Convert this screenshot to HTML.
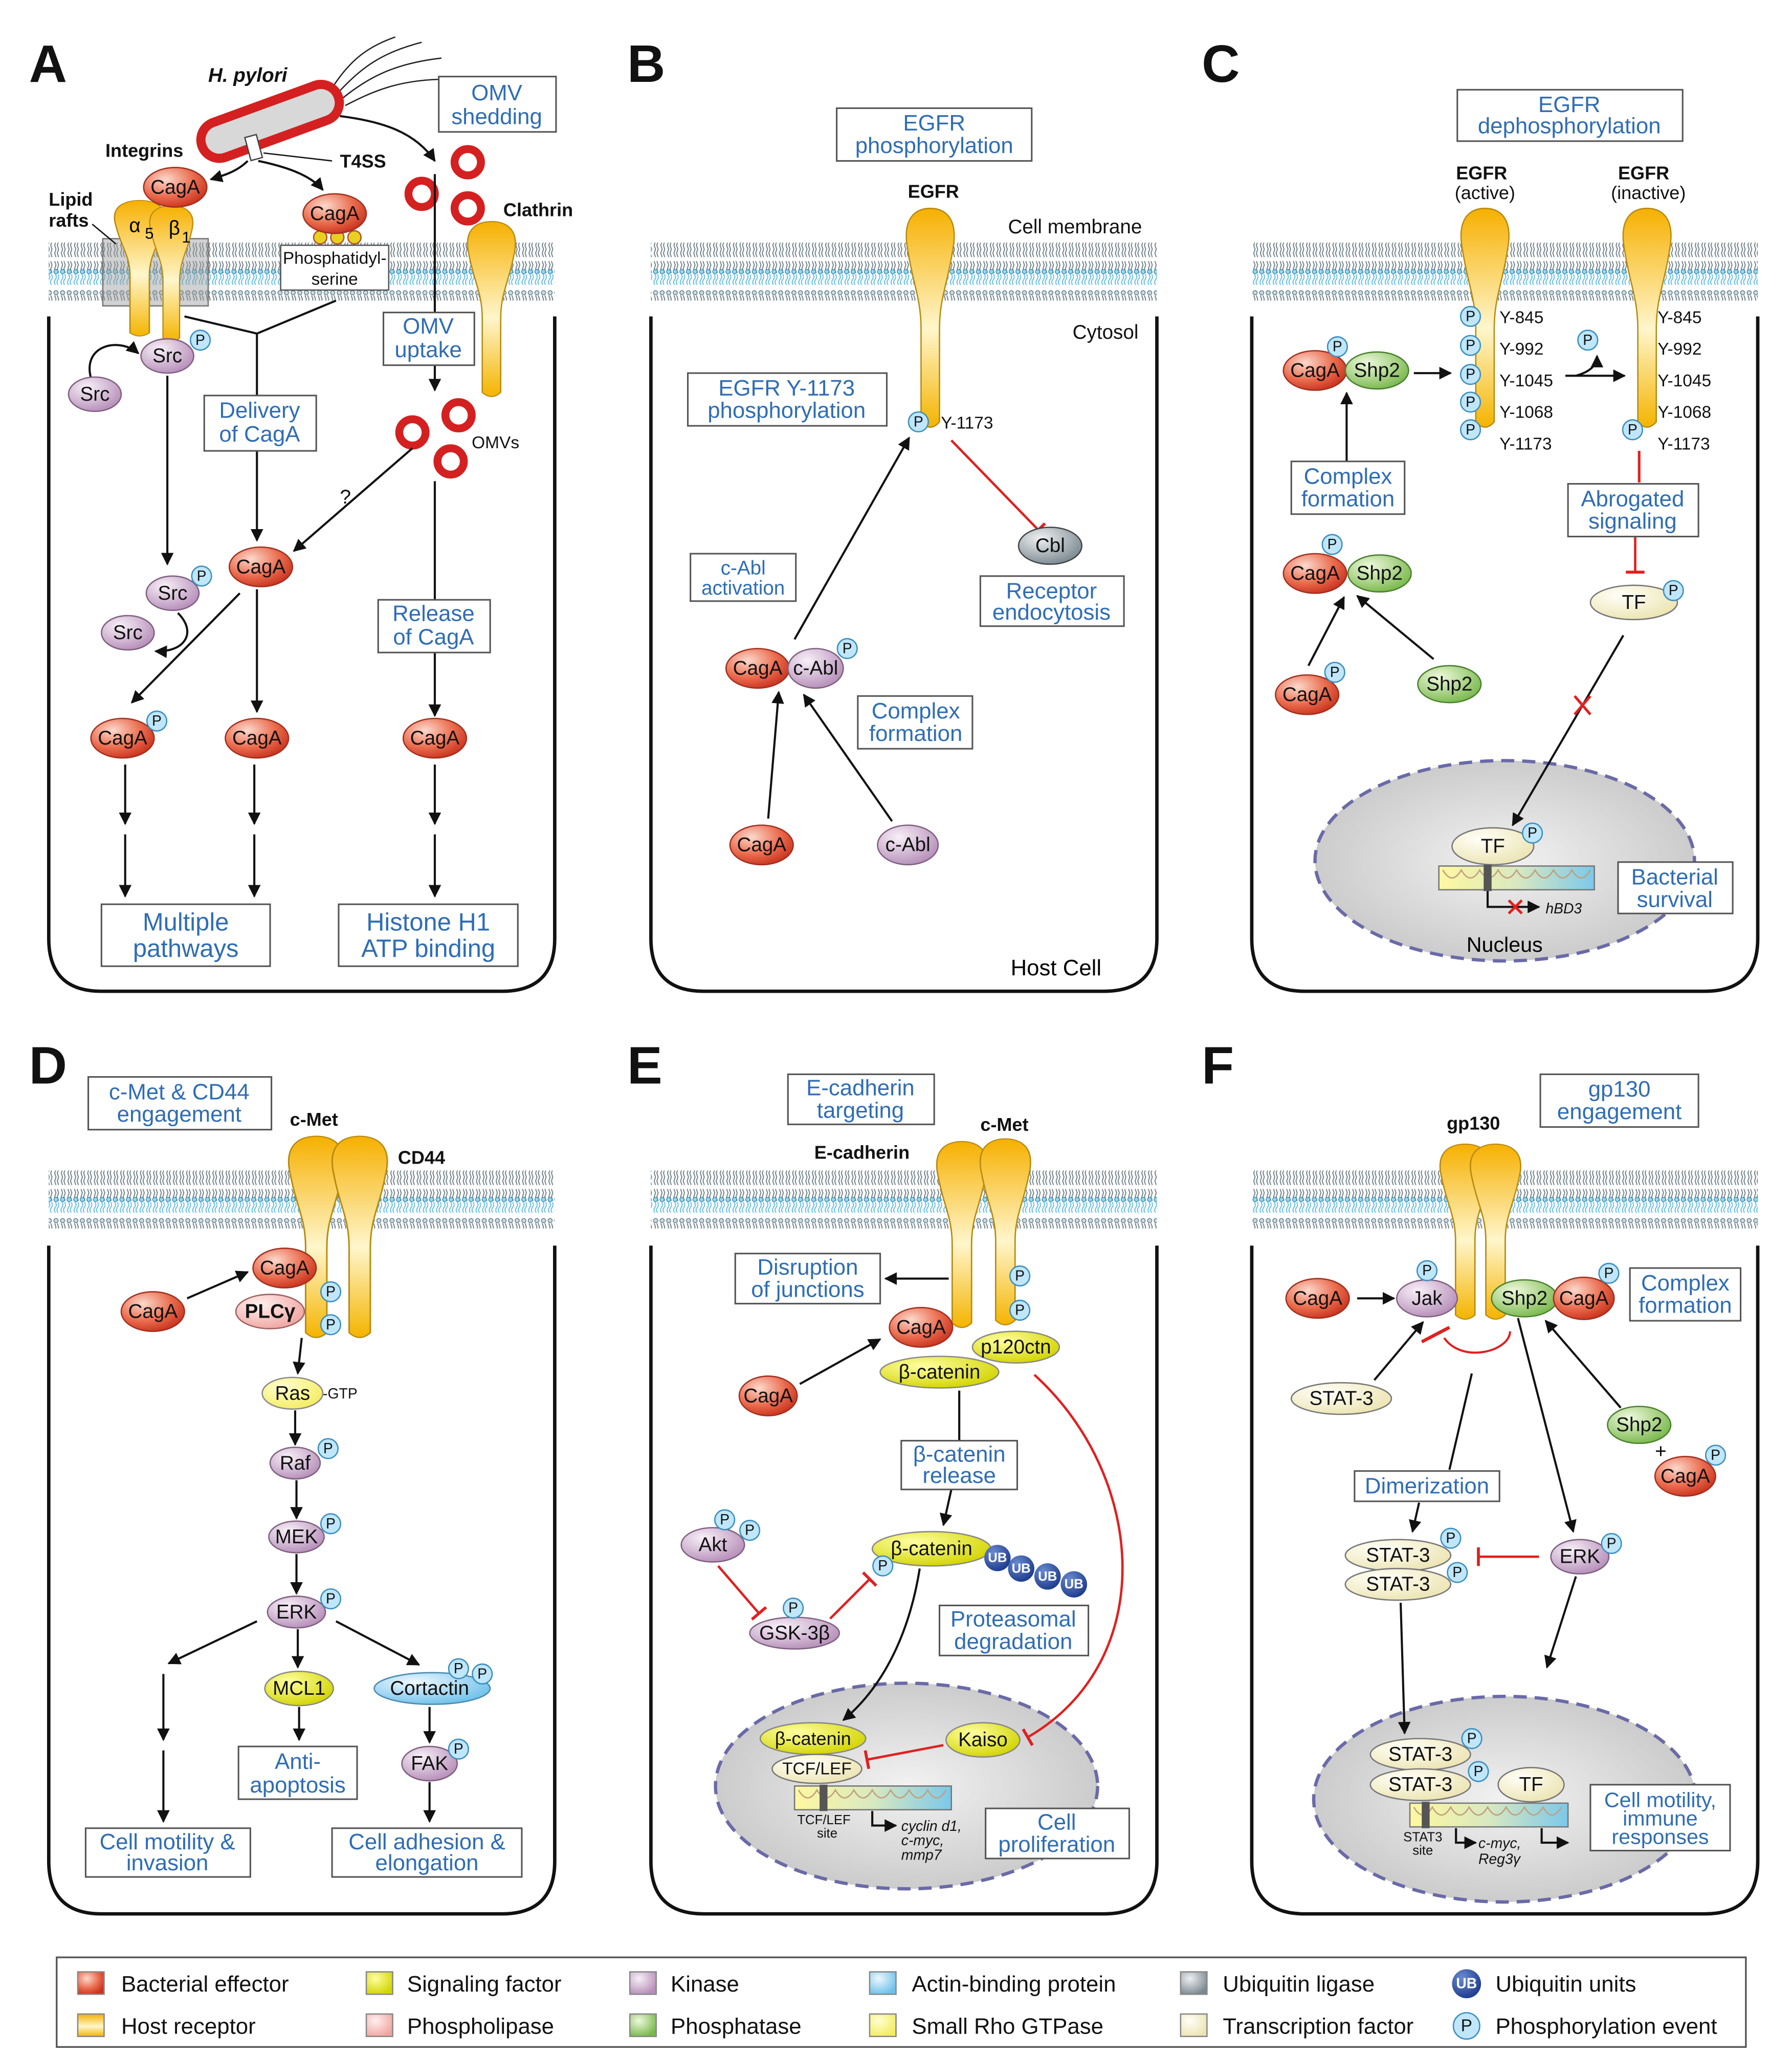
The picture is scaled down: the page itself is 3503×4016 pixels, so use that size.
<!DOCTYPE html>
<html><head><meta charset="utf-8"><style>
html,body{margin:0;padding:0;background:#fff}
svg{display:block}
text{font-family:"Liberation Sans",Arial,sans-serif}
.n{font-size:15px;text-anchor:middle;dominant-baseline:central;fill:#111}
.s{font-size:13px;text-anchor:middle;dominant-baseline:central;fill:#111}
.b{font-size:17px;text-anchor:middle;fill:#2f6db5}
.bx{fill:#fff;stroke:#555;stroke-width:1.2}
.bd{font-size:14px;font-weight:bold;fill:#111}
.L{font-size:40px;font-weight:bold;fill:#111}
.t{font-size:13px;fill:#111}
.ln{stroke:#111;stroke-width:1.6;fill:none}
.ar{stroke:#111;stroke-width:1.6;fill:none;marker-end:url(#ah)}
.inh{stroke:#e02020;stroke-width:1.8;fill:none;marker-end:url(#bar)}
.cell{stroke:#111;stroke-width:2.6;fill:none}
.lg{font-size:17px;fill:#111}
.om{fill:#fff;stroke:#d42020;stroke-width:6}
</style></head><body>
<svg width="3503" height="4016" viewBox="0 0 1360 1559" xmlns="http://www.w3.org/2000/svg">
<defs>
<marker id="ah" viewBox="0 0 10 10" refX="9" refY="5" markerWidth="6" markerHeight="6" orient="auto" markerUnits="strokeWidth"><path d="M0,0 L10,5 L0,10 Z" fill="#111"/></marker>
<marker id="bar" viewBox="-2 -8 4 16" refX="0" refY="0" markerWidth="4" markerHeight="9" orient="auto" markerUnits="strokeWidth"><path d="M0,-7 L0,7" stroke="#e02020" stroke-width="2.2"/></marker>
<radialGradient id="gr" cx="35%" cy="30%" r="75%"><stop offset="0" stop-color="#fcd9cc"/><stop offset=".6" stop-color="#ea6a4c"/><stop offset="1" stop-color="#c8321e"/></radialGradient>
<radialGradient id="gp" cx="35%" cy="30%" r="75%"><stop offset="0" stop-color="#f8f0f8"/><stop offset="1" stop-color="#b58db8"/></radialGradient>
<radialGradient id="gg" cx="35%" cy="30%" r="75%"><stop offset="0" stop-color="#eef8dc"/><stop offset="1" stop-color="#78b84a"/></radialGradient>
<radialGradient id="gy" cx="35%" cy="30%" r="75%"><stop offset="0" stop-color="#ffffa0"/><stop offset="1" stop-color="#d2d400"/></radialGradient>
<radialGradient id="gb" cx="35%" cy="30%" r="75%"><stop offset="0" stop-color="#eef8fe"/><stop offset="1" stop-color="#6cc0ea"/></radialGradient>
<radialGradient id="gc" cx="35%" cy="30%" r="75%"><stop offset="0" stop-color="#fffff8"/><stop offset="1" stop-color="#ece4b2"/></radialGradient>
<radialGradient id="gk" cx="35%" cy="30%" r="75%"><stop offset="0" stop-color="#eef0f2"/><stop offset="1" stop-color="#7a8890"/></radialGradient>
<radialGradient id="gpk" cx="35%" cy="30%" r="75%"><stop offset="0" stop-color="#fff0ee"/><stop offset="1" stop-color="#f0a4a0"/></radialGradient>
<radialGradient id="gsr" cx="35%" cy="30%" r="75%"><stop offset="0" stop-color="#ffffd0"/><stop offset="1" stop-color="#f4ec60"/></radialGradient>
<radialGradient id="gu" cx="35%" cy="30%" r="75%"><stop offset="0" stop-color="#6a8ad0"/><stop offset="1" stop-color="#1c3a8a"/></radialGradient>
<radialGradient id="gn" cx="50%" cy="50%" r="55%"><stop offset="0" stop-color="#f2f2f2"/><stop offset="1" stop-color="#c8c8c8"/></radialGradient>
<linearGradient id="go" x1="0" y1="0" x2="0" y2="1"><stop offset="0" stop-color="#f6b000"/><stop offset=".55" stop-color="#fff6cc"/><stop offset="1" stop-color="#f4b400"/></linearGradient>
<linearGradient id="gdna" x1="0" y1="0" x2="1" y2="0"><stop offset="0" stop-color="#fff8a0"/><stop offset=".5" stop-color="#d8e8c0"/><stop offset="1" stop-color="#7cc8ea"/></linearGradient>
<pattern id="mem" width="5" height="44" patternUnits="userSpaceOnUse">
<path d="M1.5,4 l1,3 l-1,3 l1,3 l-1,3 l1,3 M3.5,4 l1,3 l-1,3 l1,3 l-1,3 l1,3" stroke="#6f8088" stroke-width=".75" fill="none"/>
<path d="M1.5,22 l1,3 l-1,3 l1,3 M3.5,22 l1,3 l-1,3 l1,3" stroke="#6f8088" stroke-width=".75" fill="none"/>
<path d="M2,32 q1.5,2 0,4 q-1.5,2 0,4 M4,32 q1.5,2 0,4 q-1.5,2 0,4" stroke="#6cc0e8" stroke-width=".8" fill="none"/>
<circle cx="2.5" cy="2" r="1.6" fill="#d0dce0" stroke="#5a7a88" stroke-width=".6"/>
<circle cx="2.5" cy="30" r="1.6" fill="#a0d8f0" stroke="#3090b8" stroke-width=".6"/>
</pattern>
<path id="rec" d="M-17,32 C-22,6 -10,0 0,0 C10,0 22,6 17,32 C13,58 7,68 7,92 L7,162 Q0,170 -7,162 L-7,92 C-7,68 -13,58 -17,32 Z" fill="url(#go)" stroke="#b88a10" stroke-width="1"/>
<g id="P"><circle r="7.5" fill="#bfe6fa" stroke="#3a8ec0" stroke-width="1"/><text class="s" style="font-size:11px">P</text></g>
</defs>
<rect width="1360" height="1559" fill="#fff"/>

<rect x="37" y="184" width="384" height="44" fill="url(#mem)"/>
<rect x="494" y="184" width="384" height="44" fill="url(#mem)"/>
<rect x="950" y="184" width="384" height="44" fill="url(#mem)"/>
<rect x="37" y="888" width="384" height="44" fill="url(#mem)"/>
<rect x="494" y="888" width="384" height="44" fill="url(#mem)"/>
<rect x="950" y="888" width="384" height="44" fill="url(#mem)"/>
<path class="cell" d="M37,240 L37,712 Q37,752 77,752 L381,752 Q421,752 421,712 L421,240"/>
<path class="cell" d="M494,240 L494,712 Q494,752 534,752 L838,752 Q878,752 878,712 L878,240"/>
<path class="cell" d="M950,240 L950,712 Q950,752 990,752 L1294,752 Q1334,752 1334,712 L1334,240"/>
<path class="cell" d="M37,945 L37,1412 Q37,1452 77,1452 L381,1452 Q421,1452 421,1412 L421,945"/>
<path class="cell" d="M494,945 L494,1412 Q494,1452 534,1452 L838,1452 Q878,1452 878,1412 L878,945"/>
<path class="cell" d="M950,945 L950,1412 Q950,1452 990,1452 L1294,1452 Q1334,1452 1334,1412 L1334,945"/>

<!-- A -->
<text class="L" x="22" y="62">A</text>
<text class="bd" x="158" y="62" style="font-style:italic;font-size:15px">H. pylori</text>
<path d="M255,72 C275,50 290,40 320,32 M258,76 C280,58 300,48 335,44 M262,80 C285,68 305,60 340,60 M250,70 C265,45 280,35 300,28" stroke="#222" stroke-width="1" fill="none"/>
<g transform="rotate(-20 205 92)"><rect x="150" y="78" width="110" height="28" rx="14" fill="#d8d8d8" stroke="#d42020" stroke-width="7"/></g>
<rect x="188" y="103" width="9" height="18" fill="#fff" stroke="#444" transform="rotate(-15 192 112)"/>
<path class="ar" d="M258,88 C290,92 315,100 330,122"/>
<path class="ar" d="M188,122 C180,130 170,133 160,136"/>
<path class="ar" d="M196,122 C215,126 235,132 245,144"/>
<path class="ln" d="M200,116 L252,122" style="stroke-width:1"/>
<rect class="bx" x="333" y="58" width="89" height="42"/>
<text class="b" x="377" y="76">OMV</text><text class="b" x="377" y="94">shedding</text>
<circle class="om" cx="355" cy="123" r="10"/><circle class="om" cx="320" cy="147" r="10"/><circle class="om" cx="355" cy="158" r="10"/>
<text class="bd" x="80" y="119">Integrins</text>
<text class="bd" x="258" y="127">T4SS</text>
<text class="bd" x="37" y="156">Lipid</text><text class="bd" x="37" y="172">rafts</text>
<text class="bd" x="382" y="164">Clathrin</text>
<rect x="78" y="181" width="80" height="51" fill="#999" fill-opacity=".45" stroke="#777"/>
<path d="M70,170 L88,185" stroke="#111" stroke-width="1"/>
<use href="#rec" transform="translate(106 152) scale(1.05 0.62)"/>
<use href="#rec" transform="translate(130 156) scale(0.9 0.62)"/>
<text x="98" y="176" style="font-size:15px">α</text><text x="110" y="181" style="font-size:12px">5</text>
<text x="128" y="178" style="font-size:15px">β</text><text x="138" y="184" style="font-size:12px">1</text>
<ellipse cx="133" cy="142" rx="24" ry="15" fill="url(#gr)" stroke="#a03020"/><text class="n" x="133" y="142">CagA</text>
<circle cx="243" cy="180" r="5" fill="#e8d020" stroke="#b05030"/><circle cx="256" cy="180" r="5" fill="#e8d020" stroke="#b05030"/><circle cx="269" cy="180" r="5" fill="#e8d020" stroke="#b05030"/>
<ellipse cx="254" cy="162" rx="24" ry="15" fill="url(#gr)" stroke="#a03020"/><text class="n" x="254" y="162">CagA</text>
<rect x="213" y="186" width="82" height="34" fill="#fff" stroke="#555"/>
<text class="t" x="254" y="200" text-anchor="middle">Phosphatidyl-</text><text class="t" x="254" y="216" text-anchor="middle">serine</text>
<use href="#rec" transform="translate(373 168) scale(1 0.8)"/>
<path class="ln" d="M140,240 L195,253 L255,228 M195,253 L195,300"/>
<path class="ar" d="M195,342 L195,410"/>
<rect class="bx" x="155" y="300" width="85" height="42"/>
<text class="b" x="197" y="317">Delivery</text><text class="b" x="197" y="335">of CagA</text>
<path class="ar" d="M70,290 C60,262 90,255 105,268"/>
<ellipse cx="127" cy="270" rx="20" ry="13" fill="url(#gp)" stroke="#806080"/><text class="n" x="127" y="270">Src</text><use href="#P" x="152" y="258"/>
<ellipse cx="72" cy="299" rx="20" ry="13" fill="url(#gp)" stroke="#806080"/><text class="n" x="72" y="299">Src</text>
<path class="ar" d="M127,285 L127,428"/>
<path class="ar" d="M330,132 L330,296"/>
<rect class="bx" x="291" y="237" width="69" height="40"/>
<text class="b" x="325" y="253">OMV</text><text class="b" x="325" y="271">uptake</text>
<circle class="om" cx="313" cy="328" r="10"/><circle class="om" cx="348" cy="315" r="10"/><circle class="om" cx="342" cy="350" r="10"/>
<text class="t" x="358" y="340">OMVs</text>
<text class="t" x="258" y="382" style="font-size:15px">?</text>
<path class="ar" d="M313,340 L223,418"/>
<path class="ln" d="M330,365 L330,455"/><path class="ar" d="M330,495 L330,543"/>
<rect class="bx" x="287" y="455" width="85" height="40"/>
<text class="b" x="329" y="471">Release</text><text class="b" x="329" y="489">of CagA</text>
<ellipse cx="198" cy="430" rx="24" ry="15" fill="url(#gr)" stroke="#a03020"/><text class="n" x="198" y="430">CagA</text>
<ellipse cx="131" cy="450" rx="20" ry="13" fill="url(#gp)" stroke="#806080"/><text class="n" x="131" y="450">Src</text><use href="#P" x="153" y="437"/>
<ellipse cx="97" cy="480" rx="20" ry="13" fill="url(#gp)" stroke="#806080"/><text class="n" x="97" y="480">Src</text>
<path class="ar" d="M135,465 C150,480 140,495 118,494"/>
<path class="ar" d="M182,450 L100,533"/>
<path class="ar" d="M195,447 L195,540"/>
<ellipse cx="93" cy="560" rx="24" ry="15" fill="url(#gr)" stroke="#a03020"/><text class="n" x="93" y="560">CagA</text><use href="#P" x="119" y="547"/>
<ellipse cx="195" cy="560" rx="24" ry="15" fill="url(#gr)" stroke="#a03020"/><text class="n" x="195" y="560">CagA</text>
<ellipse cx="330" cy="560" rx="24" ry="15" fill="url(#gr)" stroke="#a03020"/><text class="n" x="330" y="560">CagA</text>
<path class="ar" d="M95,580 L95,625"/><path class="ar" d="M193,580 L193,625"/><path class="ar" d="M330,580 L330,625"/>
<path class="ar" d="M95,633 L95,680"/><path class="ar" d="M193,633 L193,680"/><path class="ar" d="M330,633 L330,680"/>
<rect class="bx" x="77" y="686" width="128" height="47"/>
<text class="b" x="141" y="706" style="font-size:19px">Multiple</text><text class="b" x="141" y="726" style="font-size:19px">pathways</text>
<rect class="bx" x="257" y="686" width="136" height="47"/>
<text class="b" x="325" y="706" style="font-size:19px">Histone H1</text><text class="b" x="325" y="726" style="font-size:19px">ATP binding</text>

<!-- B -->
<text class="L" x="476" y="62">B</text>
<rect class="bx" x="635" y="82" width="148" height="40"/>
<text class="b" x="709" y="99">EGFR</text><text class="b" x="709" y="116">phosphorylation</text>
<text class="bd" x="689" y="150">EGFR</text>
<text class="t" x="765" y="177" style="font-size:15px">Cell membrane</text>
<text class="t" x="814" y="257" style="font-size:15px">Cytosol</text>
<use href="#rec" transform="translate(706 158)"/>
<use href="#P" x="697" y="320"/><text class="t" x="714" y="325">Y-1173</text>
<rect class="bx" x="522" y="283" width="151" height="40"/>
<text class="b" x="597" y="300">EGFR Y-1173</text><text class="b" x="597" y="317">phosphorylation</text>
<path class="inh" d="M722,334 L788,402"/>
<ellipse cx="797" cy="414" rx="24" ry="14" fill="url(#gk)" stroke="#444"/><text class="n" x="797" y="414">Cbl</text>
<rect class="bx" x="744" y="437" width="109" height="38"/>
<text class="b" x="798" y="454">Receptor</text><text class="b" x="798" y="470">endocytosis</text>
<rect class="bx" x="524" y="420" width="80" height="36"/>
<text class="b" x="564" y="436" style="font-size:15px">c-Abl</text><text class="b" x="564" y="451" style="font-size:15px">activation</text>
<path class="ar" d="M603,485 L690,332"/>
<ellipse cx="575" cy="507" rx="24" ry="15" fill="url(#gr)" stroke="#a03020"/><text class="n" x="575" y="507">CagA</text>
<ellipse cx="619" cy="507" rx="21" ry="15" fill="url(#gp)" stroke="#806080"/><text class="n" x="619" y="507">c-Abl</text><use href="#P" x="643" y="492"/>
<rect class="bx" x="651" y="528" width="87" height="40"/>
<text class="b" x="695" y="545">Complex</text><text class="b" x="695" y="562">formation</text>
<path class="ar" d="M583,621 L591,525"/><path class="ar" d="M677,623 L610,527"/>
<ellipse cx="578" cy="641" rx="24" ry="15" fill="url(#gr)" stroke="#a03020"/><text class="n" x="578" y="641">CagA</text>
<ellipse cx="689" cy="641" rx="23" ry="15" fill="url(#gp)" stroke="#806080"/><text class="n" x="689" y="641">c-Abl</text>
<text x="767" y="740" style="font-size:17px">Host Cell</text>

<!-- C -->
<text class="L" x="912" y="62">C</text>
<rect class="bx" x="1106" y="68" width="171" height="39"/>
<text class="b" x="1191" y="85">EGFR</text><text class="b" x="1191" y="101">dephosphorylation</text>
<text class="bd" x="1105" y="136">EGFR</text><text class="t" x="1127" y="151" text-anchor="middle" style="font-size:14px">(active)</text>
<text class="bd" x="1228" y="136">EGFR</text><text class="t" x="1251" y="151" text-anchor="middle" style="font-size:14px">(inactive)</text>
<use href="#rec" transform="translate(1127 158)"/>
<use href="#rec" transform="translate(1250 158)"/>
<use href="#P" x="1116" y="240"/><use href="#P" x="1116" y="262"/><use href="#P" x="1116" y="284"/><use href="#P" x="1116" y="305"/><use href="#P" x="1116" y="326"/>
<text class="t" x="1138" y="245">Y-845</text><text class="t" x="1138" y="269">Y-992</text><text class="t" x="1138" y="293">Y-1045</text><text class="t" x="1138" y="317">Y-1068</text><text class="t" x="1138" y="341">Y-1173</text>
<text class="t" x="1258" y="245">Y-845</text><text class="t" x="1258" y="269">Y-992</text><text class="t" x="1258" y="293">Y-1045</text><text class="t" x="1258" y="317">Y-1068</text><text class="t" x="1258" y="341">Y-1173</text>
<use href="#P" x="1239" y="326"/>
<use href="#P" x="1205" y="258"/>
<path class="ar" d="M1188,285 L1233,285"/>
<path class="ar" d="M1196,285 C1207,282 1212,277 1212,270"/>
<path class="ar" d="M1073,283 L1101,283"/>
<ellipse cx="998" cy="281" rx="24" ry="15" fill="url(#gr)" stroke="#a03020"/><text class="n" x="998" y="281">CagA</text><use href="#P" x="1015" y="263"/>
<ellipse cx="1045" cy="281" rx="24" ry="14" fill="url(#gg)" stroke="#4a8030"/><text class="n" x="1045" y="281">Shp2</text>
<path class="ar" d="M1022,350 L1022,298"/>
<rect class="bx" x="980" y="350" width="86" height="40"/>
<text class="b" x="1023" y="367">Complex</text><text class="b" x="1023" y="384">formation</text>
<ellipse cx="998" cy="435" rx="24" ry="15" fill="url(#gr)" stroke="#a03020"/><text class="n" x="998" y="435">CagA</text><use href="#P" x="1011" y="413"/>
<ellipse cx="1047" cy="435" rx="24" ry="14" fill="url(#gg)" stroke="#4a8030"/><text class="n" x="1047" y="435">Shp2</text>
<path class="ar" d="M993,505 L1020,453"/><path class="ar" d="M1088,500 L1030,452"/>
<ellipse cx="992" cy="527" rx="24" ry="15" fill="url(#gr)" stroke="#a03020"/><text class="n" x="992" y="527">CagA</text><use href="#P" x="1013" y="510"/>
<ellipse cx="1100" cy="519" rx="24" ry="14" fill="url(#gg)" stroke="#4a8030"/><text class="n" x="1100" y="519">Shp2</text>
<path d="M1244,342 L1244,366" stroke="#e02020" stroke-width="2"/>
<path class="inh" d="M1241,407 L1241,434"/>
<rect class="bx" x="1190" y="367" width="99" height="40"/>
<text class="b" x="1239" y="384">Abrogated</text><text class="b" x="1239" y="401">signaling</text>
<ellipse cx="1240" cy="457" rx="33" ry="13" fill="url(#gc)" stroke="#777"/><text class="n" x="1240" y="457">TF</text><use href="#P" x="1270" y="448"/>
<ellipse cx="1142" cy="653" rx="144" ry="76" fill="url(#gn)" stroke="#6a6aa8" stroke-width="2.5" stroke-dasharray="10 6"/>
<path class="ar" d="M1232,482 L1148,626"/>
<path d="M1195,528 L1207,542 M1207,528 L1195,542" stroke="#e02020" stroke-width="2"/>
<ellipse cx="1133" cy="642" rx="31" ry="14" fill="url(#gc)" stroke="#777"/><text class="n" x="1133" y="642">TF</text><use href="#P" x="1163" y="632"/>
<rect x="1092" y="657" width="118" height="18" fill="url(#gdna)" stroke="#777"/>
<path d="M1095,660 q7,12 14,0 q7,12 14,0 q7,12 14,0 q7,12 14,0 q7,12 14,0 q7,12 14,0 q7,12 14,0 q7,12 14,0" stroke="#c0a080" fill="none"/>
<rect x="1126" y="656" width="6" height="20" fill="#555"/>
<path class="ar" d="M1129,676 L1129,688 L1168,688"/>
<path d="M1145,683 L1155,693 M1155,683 L1145,693" stroke="#e02020" stroke-width="2"/>
<text class="t" x="1173" y="693" style="font-size:11px;font-style:italic">hBD3</text>
<rect class="bx" x="1228" y="654" width="87" height="39"/>
<text class="b" x="1271" y="671">Bacterial</text><text class="b" x="1271" y="688">survival</text>
<text x="1113" y="722" style="font-size:16px">Nucleus</text>

<!-- D -->
<text class="L" x="22" y="822">D</text>
<rect class="bx" x="67" y="817" width="139" height="40"/>
<text class="b" x="136" y="834">c-Met &amp; CD44</text><text class="b" x="136" y="851">engagement</text>
<text class="bd" x="220" y="854">c-Met</text>
<text class="bd" x="302" y="883">CD44</text>
<use href="#rec" transform="translate(240 862) scale(1.15 0.92)"/>
<use href="#rec" transform="translate(273 862) scale(1.15 0.92)"/>
<ellipse cx="216" cy="962" rx="24" ry="15" fill="url(#gr)" stroke="#a03020"/><text class="n" x="216" y="962">CagA</text>
<use href="#P" x="251" y="980"/><use href="#P" x="251" y="1005"/>
<ellipse cx="205" cy="995" rx="26" ry="13" fill="url(#gpk)" stroke="#a06060"/><text class="n" x="205" y="995" style="font-weight:bold">PLCγ</text>
<ellipse cx="116" cy="995" rx="24" ry="15" fill="url(#gr)" stroke="#a03020"/><text class="n" x="116" y="995">CagA</text>
<path class="ar" d="M142,985 L188,965"/>
<path class="ar" d="M229,1015 L226,1042"/>
<ellipse cx="222" cy="1057" rx="23" ry="12" fill="url(#gsr)" stroke="#888"/><text class="n" x="222" y="1057">Ras</text>
<text class="t" x="245" y="1061" style="font-size:11px">-GTP</text>
<path class="ar" d="M224,1070 L224,1096"/>
<ellipse cx="224" cy="1110" rx="19" ry="12" fill="url(#gp)" stroke="#806080"/><text class="n" x="224" y="1110">Raf</text><use href="#P" x="249" y="1099"/>
<path class="ar" d="M225,1123 L225,1152"/>
<ellipse cx="225" cy="1166" rx="21" ry="12" fill="url(#gp)" stroke="#806080"/><text class="n" x="225" y="1166">MEK</text><use href="#P" x="251" y="1156"/>
<path class="ar" d="M225,1179 L225,1209"/>
<ellipse cx="225" cy="1223" rx="22" ry="12" fill="url(#gp)" stroke="#806080"/><text class="n" x="225" y="1223">ERK</text><use href="#P" x="251" y="1213"/>
<path class="ar" d="M195,1230 L128,1262"/><path class="ar" d="M226,1236 L226,1265"/><path class="ar" d="M255,1230 L318,1263"/>
<ellipse cx="227" cy="1281" rx="26" ry="13" fill="url(#gy)" stroke="#888"/><text class="n" x="227" y="1281">MCL1</text>
<ellipse cx="328" cy="1281" rx="44" ry="12" fill="url(#gb)" stroke="#4a8ab0"/><text class="n" x="326" y="1281">Cortactin</text>
<use href="#P" x="348" y="1266"/><use href="#P" x="366" y="1270"/>
<path class="ar" d="M227,1295 L227,1320"/>
<path class="ar" d="M326,1295 L326,1322"/>
<ellipse cx="326" cy="1338" rx="21" ry="13" fill="url(#gp)" stroke="#806080"/><text class="n" x="326" y="1338">FAK</text><use href="#P" x="348" y="1327"/>
<path class="ar" d="M326,1352 L326,1382"/>
<path class="ar" d="M124,1270 L124,1320"/><path class="ar" d="M124,1328 L124,1382"/>
<rect class="bx" x="181" y="1325" width="90" height="40"/>
<text class="b" x="226" y="1342">Anti-</text><text class="b" x="226" y="1360">apoptosis</text>
<rect class="bx" x="65" y="1387" width="125" height="37"/>
<text class="b" x="127" y="1403">Cell motility &amp;</text><text class="b" x="127" y="1419">invasion</text>
<rect class="bx" x="252" y="1387" width="144" height="37"/>
<text class="b" x="324" y="1403">Cell adhesion &amp;</text><text class="b" x="324" y="1419">elongation</text>

<!-- E -->
<text class="L" x="476" y="822">E</text>
<rect class="bx" x="598" y="815" width="111" height="38"/>
<text class="b" x="653" y="831">E-cadherin</text><text class="b" x="653" y="848">targeting</text>
<text class="bd" x="744" y="858">c-Met</text>
<text class="bd" x="618" y="879">E-cadherin</text>
<use href="#rec" transform="translate(730 866) scale(1.05 0.85)"/>
<use href="#rec" transform="translate(763 864) scale(1.05 0.85)"/>
<use href="#P" x="774" y="968"/><use href="#P" x="774" y="994"/>
<path class="ar" d="M720,970 L672,970"/>
<rect class="bx" x="558" y="951" width="110" height="38"/>
<text class="b" x="613" y="967">Disruption</text><text class="b" x="613" y="984">of junctions</text>
<ellipse cx="771" cy="1022" rx="33" ry="12" fill="url(#gy)" stroke="#888"/><text class="n" x="771" y="1022">p120ctn</text>
<ellipse cx="699" cy="1007" rx="24" ry="15" fill="url(#gr)" stroke="#a03020"/><text class="n" x="699" y="1007">CagA</text>
<ellipse cx="713" cy="1041" rx="45" ry="12" fill="url(#gy)" stroke="#888"/><text class="n" x="713" y="1041">β-catenin</text>
<ellipse cx="583" cy="1059" rx="22" ry="15" fill="url(#gr)" stroke="#a03020"/><text class="n" x="583" y="1059">CagA</text>
<path class="ar" d="M607,1050 L668,1016"/>
<path class="ln" d="M728,1055 L728,1093"/><path class="ar" d="M722,1130 L716,1157"/>
<rect class="bx" x="684" y="1093" width="88" height="37"/>
<text class="b" x="728" y="1109">β-catenin</text><text class="b" x="728" y="1125">release</text>
<ellipse cx="707" cy="1175" rx="45" ry="13" fill="url(#gy)" stroke="#888"/><text class="n" x="707" y="1175">β-catenin</text>
<use href="#P" x="670" y="1188"/>
<circle cx="757" cy="1182" r="10" fill="url(#gu)"/><text class="s" x="757" y="1182" style="fill:#fff;font-size:10px;font-weight:bold">UB</text>
<circle cx="775" cy="1190" r="10" fill="url(#gu)"/><text class="s" x="775" y="1190" style="fill:#fff;font-size:10px;font-weight:bold">UB</text>
<circle cx="795" cy="1196" r="10" fill="url(#gu)"/><text class="s" x="795" y="1196" style="fill:#fff;font-size:10px;font-weight:bold">UB</text>
<circle cx="815" cy="1202" r="10" fill="url(#gu)"/><text class="s" x="815" y="1202" style="fill:#fff;font-size:10px;font-weight:bold">UB</text>
<ellipse cx="541" cy="1172" rx="24" ry="13" fill="url(#gp)" stroke="#806080"/><text class="n" x="541" y="1172">Akt</text>
<use href="#P" x="550" y="1153"/><use href="#P" x="569" y="1161"/>
<path class="inh" d="M545,1188 L576,1224"/>
<ellipse cx="603" cy="1239" rx="34" ry="12" fill="url(#gp)" stroke="#806080"/><text class="n" x="603" y="1239">GSK-3β</text>
<use href="#P" x="602" y="1220"/>
<path class="inh" d="M630,1228 L660,1198"/>
<rect class="bx" x="713" y="1218" width="113" height="38"/>
<text class="b" x="769" y="1234">Proteasomal</text><text class="b" x="769" y="1251">degradation</text>
<ellipse cx="688" cy="1355" rx="145" ry="78" fill="url(#gn)" stroke="#6a6aa8" stroke-width="2.5" stroke-dasharray="10 6"/>
<path class="ar" d="M698,1190 C690,1240 670,1280 640,1305"/>
<path class="inh" d="M785,1043 C870,1120 880,1260 780,1318"/>
<ellipse cx="617" cy="1319" rx="40" ry="12" fill="url(#gy)" stroke="#888"/><text class="n" x="617" y="1319" style="font-size:14px">β-catenin</text>
<ellipse cx="620" cy="1342" rx="34" ry="11" fill="url(#gc)" stroke="#777"/><text class="n" x="620" y="1342" style="font-size:13px">TCF/LEF</text>
<ellipse cx="746" cy="1320" rx="28" ry="13" fill="url(#gy)" stroke="#888"/><text class="n" x="746" y="1320">Kaiso</text>
<path class="inh" d="M716,1324 L658,1335"/>
<rect x="603" y="1355" width="119" height="18" fill="url(#gdna)" stroke="#777"/>
<path d="M606,1358 q7,12 14,0 q7,12 14,0 q7,12 14,0 q7,12 14,0 q7,12 14,0 q7,12 14,0 q7,12 14,0 q7,12 14,0" stroke="#c0a080" fill="none"/>
<rect x="622" y="1354" width="6" height="20" fill="#555"/>
<text class="t" x="605" y="1384" style="font-size:10px">TCF/LEF</text><text class="t" x="620" y="1394" style="font-size:10px">site</text>
<path class="ar" d="M662,1374 L662,1385 L680,1385"/>
<text class="t" x="684" y="1389" style="font-size:11px;font-style:italic">cyclin d1,</text>
<text class="t" x="684" y="1400" style="font-size:11px;font-style:italic">c-myc,</text>
<text class="t" x="684" y="1411" style="font-size:11px;font-style:italic">mmp7</text>
<rect class="bx" x="748" y="1372" width="109" height="38"/>
<text class="b" x="802" y="1388">Cell</text><text class="b" x="802" y="1405">proliferation</text>

<!-- F -->
<text class="L" x="912" y="822">F</text>
<rect class="bx" x="1169" y="815" width="120" height="40"/>
<text class="b" x="1229" y="832">gp130</text><text class="b" x="1229" y="849">engagement</text>
<text class="bd" x="1098" y="857">gp130</text>
<use href="#rec" transform="translate(1112 868) scale(1.05 0.8)"/>
<use href="#rec" transform="translate(1135 868) scale(1.05 0.8)"/>
<ellipse cx="1000" cy="985" rx="24" ry="15" fill="url(#gr)" stroke="#a03020"/><text class="n" x="1000" y="985">CagA</text>
<path class="ar" d="M1030,985 L1058,985"/>
<ellipse cx="1083" cy="985" rx="23" ry="14" fill="url(#gp)" stroke="#806080"/><text class="n" x="1083" y="985">Jak</text><use href="#P" x="1083" y="964"/>
<ellipse cx="1157" cy="985" rx="25" ry="14" fill="url(#gg)" stroke="#4a8030"/><text class="n" x="1157" y="985">Shp2</text>
<ellipse cx="1202" cy="985" rx="23" ry="16" fill="url(#gr)" stroke="#a03020"/><text class="n" x="1202" y="985">CagA</text><use href="#P" x="1221" y="966"/>
<rect class="bx" x="1237" y="962" width="84" height="40"/>
<text class="b" x="1279" y="979">Complex</text><text class="b" x="1279" y="996">formation</text>
<path d="M1146,1010 C1146,1025 1110,1035 1096,1015" stroke="#e02020" stroke-width="1.6" fill="none"/>
<path d="M1079,1018 L1100,1007" stroke="#e02020" stroke-width="2.5"/>
<path class="ar" d="M1043,1047 L1080,1003"/>
<ellipse cx="1018" cy="1061" rx="38" ry="12" fill="url(#gc)" stroke="#777"/><text class="n" x="1018" y="1061">STAT-3</text>
<path class="ln" d="M1117,1042 L1100,1115"/>
<path class="ar" d="M1152,1000 L1194,1162"/>
<path class="ar" d="M1230,1068 L1173,1002"/>
<ellipse cx="1244" cy="1081" rx="24" ry="14" fill="url(#gg)" stroke="#4a8030"/><text class="n" x="1244" y="1081">Shp2</text>
<text x="1256" y="1106" style="font-size:15px">+</text>
<ellipse cx="1279" cy="1120" rx="23" ry="15" fill="url(#gr)" stroke="#a03020"/><text class="n" x="1279" y="1120">CagA</text><use href="#P" x="1302" y="1104"/>
<rect class="bx" x="1028" y="1116" width="110" height="23"/>
<text class="b" x="1083" y="1133">Dimerization</text>
<path class="ar" d="M1077,1140 L1072,1162"/>
<ellipse cx="1061" cy="1180" rx="40" ry="12" fill="url(#gc)" stroke="#777"/><text class="n" x="1061" y="1180">STAT-3</text><use href="#P" x="1101" y="1167"/>
<ellipse cx="1061" cy="1202" rx="40" ry="12" fill="url(#gc)" stroke="#777"/><text class="n" x="1061" y="1202">STAT-3</text><use href="#P" x="1106" y="1193"/>
<path class="inh" d="M1168,1181 L1122,1181"/>
<ellipse cx="1199" cy="1181" rx="22" ry="13" fill="url(#gp)" stroke="#806080"/><text class="n" x="1199" y="1181">ERK</text><use href="#P" x="1223" y="1171"/>
<ellipse cx="1142" cy="1365" rx="145" ry="78" fill="url(#gn)" stroke="#6a6aa8" stroke-width="2.5" stroke-dasharray="10 6"/>
<path class="ar" d="M1063,1216 L1066,1315"/>
<path class="ar" d="M1196,1196 L1174,1265"/>
<ellipse cx="1078" cy="1331" rx="38" ry="12" fill="url(#gc)" stroke="#777"/><text class="n" x="1078" y="1331">STAT-3</text><use href="#P" x="1117" y="1319"/>
<ellipse cx="1078" cy="1354" rx="38" ry="12" fill="url(#gc)" stroke="#777"/><text class="n" x="1078" y="1354">STAT-3</text><use href="#P" x="1122" y="1344"/>
<ellipse cx="1162" cy="1354" rx="25" ry="13" fill="url(#gc)" stroke="#777"/><text class="n" x="1162" y="1354">TF</text>
<rect x="1070" y="1368" width="120" height="18" fill="url(#gdna)" stroke="#777"/>
<path d="M1073,1371 q7,12 14,0 q7,12 14,0 q7,12 14,0 q7,12 14,0 q7,12 14,0 q7,12 14,0 q7,12 14,0 q7,12 14,0" stroke="#c0a080" fill="none"/>
<rect x="1079" y="1367" width="6" height="20" fill="#555"/>
<text class="t" x="1065" y="1397" style="font-size:10px">STAT3</text><text class="t" x="1072" y="1407" style="font-size:10px">site</text>
<path class="ar" d="M1105,1387 L1105,1398 L1120,1398"/>
<path class="ar" d="M1170,1387 L1170,1398 L1190,1398"/>
<text class="t" x="1122" y="1402" style="font-size:11px;font-style:italic">c-myc,</text>
<text class="t" x="1122" y="1414" style="font-size:11px;font-style:italic">Reg3γ</text>
<rect class="bx" x="1207" y="1354" width="106" height="50"/>
<text class="b" x="1260" y="1371" style="font-size:16px">Cell motility,</text><text class="b" x="1260" y="1385" style="font-size:16px">immune</text><text class="b" x="1260" y="1399" style="font-size:16px">responses</text>

<!-- LEGEND -->
<rect x="43" y="1485" width="1282" height="68" fill="#fff" stroke="#555" stroke-width="1.3"/>
<rect x="59" y="1496" width="20" height="17" fill="url(#gr)" stroke="#888"/><text class="lg" x="92" y="1511">Bacterial effector</text>
<rect x="59" y="1528" width="20" height="17" fill="url(#go)" stroke="#888"/><text class="lg" x="92" y="1543">Host receptor</text>
<rect x="278" y="1496" width="20" height="17" fill="url(#gy)" stroke="#888"/><text class="lg" x="309" y="1511">Signaling factor</text>
<rect x="278" y="1528" width="20" height="17" fill="url(#gpk)" stroke="#888"/><text class="lg" x="309" y="1543">Phospholipase</text>
<rect x="478" y="1496" width="20" height="17" fill="url(#gp)" stroke="#888"/><text class="lg" x="509" y="1511">Kinase</text>
<rect x="478" y="1528" width="20" height="17" fill="url(#gg)" stroke="#888"/><text class="lg" x="509" y="1543">Phosphatase</text>
<rect x="660" y="1496" width="20" height="17" fill="url(#gb)" stroke="#888"/><text class="lg" x="692" y="1511">Actin-binding protein</text>
<rect x="660" y="1528" width="20" height="17" fill="url(#gsr)" stroke="#888"/><text class="lg" x="692" y="1543">Small Rho GTPase</text>
<rect x="896" y="1496" width="20" height="17" fill="url(#gk)" stroke="#888"/><text class="lg" x="928" y="1511">Ubiquitin ligase</text>
<rect x="896" y="1528" width="20" height="17" fill="url(#gc)" stroke="#888"/><text class="lg" x="928" y="1543">Transcription factor</text>
<circle cx="1113" cy="1505" r="11" fill="url(#gu)"/><text class="s" x="1113" y="1505" style="fill:#fff;font-size:11px;font-weight:bold">UB</text><text class="lg" x="1135" y="1511">Ubiquitin units</text>
<circle cx="1113" cy="1537" r="10" fill="#bfe6fa" stroke="#3a8ec0"/><text class="s" x="1113" y="1537">P</text><text class="lg" x="1135" y="1543">Phosphorylation event</text>
</svg>
</body></html>
